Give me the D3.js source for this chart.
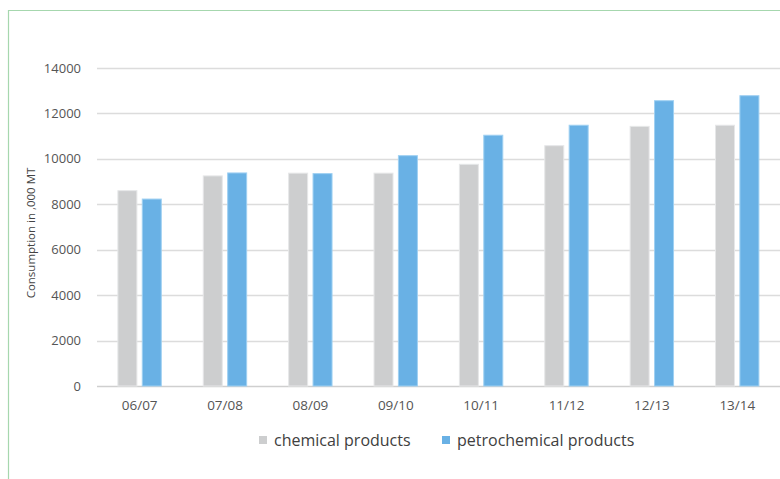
<!DOCTYPE html>
<html>
<head>
<meta charset="utf-8">
<script src="https://cdn.jsdelivr.net/npm/d3@7"></script>
<style>
  html, body { margin: 0; padding: 0; background: #fff; }
  svg { display: block; font-family: "Open Sans", "DejaVu Sans", sans-serif; }
</style>
</head>
<body>
<svg id="chart" width="780" height="479"></svg>
<script>
// Consumption by fiscal year, in thousand metric tonnes
const years = ["06/07", "07/08", "08/09", "09/10", "10/11", "11/12", "12/13", "13/14"];
const chemical = [8600, 9250, 9370, 9370, 9760, 10580, 11430, 11480];
const petrochemical = [8230, 9380, 9350, 10140, 11040, 11480, 12560, 12780];
const seriesNames = ["chemical products", "petrochemical products"];
const yTicks = [0, 2000, 4000, 6000, 8000, 10000, 12000, 14000];

const colors = ["#cdcecf", "#69b1e5"];
const strokes = ["#e6e7e8", "#9fd0f2"];

const svg = d3.select("#chart");

// Frame lines along the top and left edges
svg.append("line").attr("x1", 8.5).attr("x2", 780).attr("y1", 10.5).attr("y2", 10.5)
  .attr("stroke", "#a6d7ae").attr("stroke-width", 1.2);
svg.append("line").attr("x1", 8.5).attr("x2", 8.5).attr("y1", 10).attr("y2", 479)
  .attr("stroke", "#a6d7ae").attr("stroke-width", 1.2);

const x = d3.scaleBand().domain(years).range([97, 780]);
const y = d3.scaleLinear().domain([0, 14000]).range([386, 68]);

// Horizontal gridlines
svg.append("g").selectAll("line").data(yTicks).join("line")
  .attr("x1", 97).attr("x2", 780)
  .attr("y1", d => Math.round(y(d)) + 0.5).attr("y2", d => Math.round(y(d)) + 0.5)
  .attr("stroke", d => d === 0 ? "#cfcfcf" : "#dcdcdc").attr("stroke-width", 1.3);

// Y tick labels
svg.append("g").selectAll("text").data(yTicks).join("text")
  .attr("x", 81).attr("y", d => y(d)).attr("dy", "0.35em")
  .attr("text-anchor", "end").attr("font-size", 13).attr("fill", "#555")
  .text(d => d);

// Y axis title
svg.append("text")
  .attr("transform", "translate(35,233) rotate(-90)")
  .attr("text-anchor", "middle").attr("font-size", 11.5).attr("fill", "#444")
  .text("Consumption in ,000 MT");

// Bars
const barW = 19;
const offsets = [-21.8, 2.6];
[chemical, petrochemical].forEach((vals, si) => {
  svg.append("g").selectAll("rect").data(vals).join("rect")
    .attr("x", (d, i) => x(years[i]) + x.bandwidth() / 2 + offsets[si])
    .attr("y", d => y(d))
    .attr("width", barW)
    .attr("height", d => y(0) - y(d))
    .attr("fill", colors[si])
    .attr("stroke", strokes[si]).attr("stroke-width", 1);
});

// X category labels
svg.append("g").selectAll("text").data(years).join("text")
  .attr("x", d => x(d) + x.bandwidth() / 2)
  .attr("y", 410)
  .attr("text-anchor", "middle").attr("font-size", 13.5).attr("fill", "#555")
  .text(d => d);

// Legend
const legendX = [259, 442];
const legend = svg.append("g").selectAll("g").data(seriesNames).join("g")
  .attr("transform", (d, i) => `translate(${legendX[i]},0)`);
legend.append("rect").attr("x", 0).attr("y", 436).attr("width", 8).attr("height", 8)
  .attr("fill", (d, i) => colors[i]);
legend.append("text").attr("x", 15).attr("y", 446)
  .attr("font-size", 16).attr("fill", "#404040")
  .text(d => d);
</script>
</body>
</html>
